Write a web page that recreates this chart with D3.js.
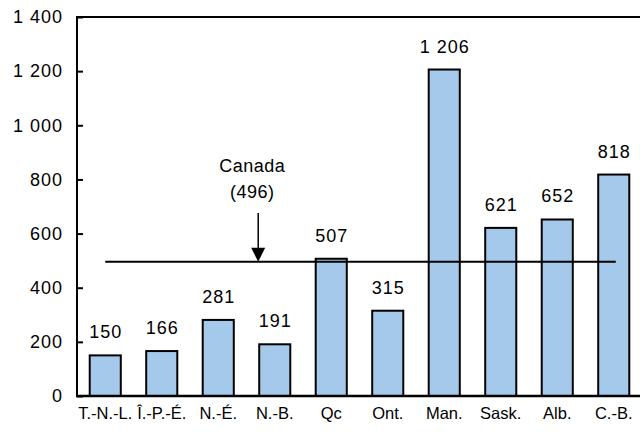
<!DOCTYPE html>
<html><head><meta charset="utf-8">
<script src="https://cdn.jsdelivr.net/npm/d3@7"></script>
<style>body{margin:0;background:#fff}svg{display:block}text{font-family:"Liberation Sans",Arial,sans-serif;fill:#000}</style>
</head><body>
<script>
const categories = ["T.-N.-L.","Î.-P.-É.","N.-É.","N.-B.","Qc","Ont.","Man.","Sask.","Alb.","C.-B."];
const values = [150,166,281,191,507,315,1206,621,652,818];
const canadaValue = 496;
const canadaLabel = ["Canada","(496)"];
const yTicks = [0,200,400,600,800,1000,1200,1400];

const W=640,H=437;
const m={left:77,top:17,right:-2,bottom:41};
const svg=d3.select("body").append("svg").attr("width",W).attr("height",H);
const x=d3.scaleBand().domain(categories).range([m.left,W-m.right]).paddingInner(0.45).paddingOuter(0.225);
const y=d3.scaleLinear().domain([0,1400]).range([H-m.bottom,m.top]);
const fmt=v=>d3.format(",")(v).replace(/,/g," ");
const FS=18, LS=1;

// bars
svg.selectAll("rect.bar").data(values).join("rect")
  .attr("x",(d,i)=>x(categories[i])).attr("width",x.bandwidth())
  .attr("y",d=>y(d)).attr("height",d=>y(0)-y(d))
  .attr("fill","#a5c9eb").attr("stroke","#000").attr("stroke-width",2);

// value labels
svg.selectAll("text.val").data(values).join("text")
  .attr("x",(d,i)=>x(categories[i])+x.bandwidth()/2+LS/2).attr("y",d=>y(d)-17)
  .attr("text-anchor","middle").attr("font-size",FS).attr("letter-spacing",LS).text(d=>fmt(d));

// axes
const ya=d3.axisLeft(y).tickValues(yTicks).tickSize(-6).tickPadding(15).tickFormat(fmt);
const gy=svg.append("g").attr("transform",`translate(${m.left},0)`).call(ya);
gy.select(".domain").remove();
gy.selectAll("line").attr("stroke","#000").attr("stroke-width",2);
gy.selectAll("text").attr("font-size",FS).attr("letter-spacing",LS).attr("dx",LS).attr("font-family","Liberation Sans, Arial, sans-serif");
svg.append("line").attr("x1",m.left).attr("x2",m.left).attr("y1",y(1400)).attr("y2",y(0)).attr("stroke","#000").attr("stroke-width",2);
svg.append("line").attr("x1",m.left-1).attr("x2",W).attr("y1",y(1400)).attr("y2",y(1400)).attr("stroke","#000").attr("stroke-width",2);
svg.append("line").attr("x1",m.left-1).attr("x2",W).attr("y1",y(0)).attr("y2",y(0)).attr("stroke","#000").attr("stroke-width",2.5);

const xa=d3.axisBottom(x).tickSize(0).tickPadding(11);
const gx=svg.append("g").attr("transform",`translate(0,${y(0)})`).call(xa);
gx.select(".domain").remove();
gx.selectAll("text").attr("font-size",16.5).attr("font-family","Liberation Sans, Arial, sans-serif");

// Canada average line
const c0=x(categories[0])+x.bandwidth()/2, c1=x(categories[categories.length-1])+x.bandwidth()/2;
svg.append("line").attr("x1",c0).attr("x2",c1+2).attr("y1",y(canadaValue)).attr("y2",y(canadaValue)).attr("stroke","#000").attr("stroke-width",2);
const ax=x(categories[3])-1;
svg.append("line").attr("x1",ax).attr("x2",ax).attr("y1",213).attr("y2",y(canadaValue)-10).attr("stroke","#000").attr("stroke-width",1.5);
svg.append("path").attr("d",`M${ax-7},${y(canadaValue)-14}L${ax+7},${y(canadaValue)-14}L${ax},${y(canadaValue)}Z`).attr("fill","#000");
svg.append("text").attr("x",ax-6).attr("y",172).attr("text-anchor","middle").attr("font-size",FS).attr("letter-spacing",0.5).text(canadaLabel[0]);
svg.append("text").attr("x",ax-6).attr("y",198).attr("text-anchor","middle").attr("font-size",FS).attr("letter-spacing",0.5).text(canadaLabel[1]);
</script>
</body></html>
